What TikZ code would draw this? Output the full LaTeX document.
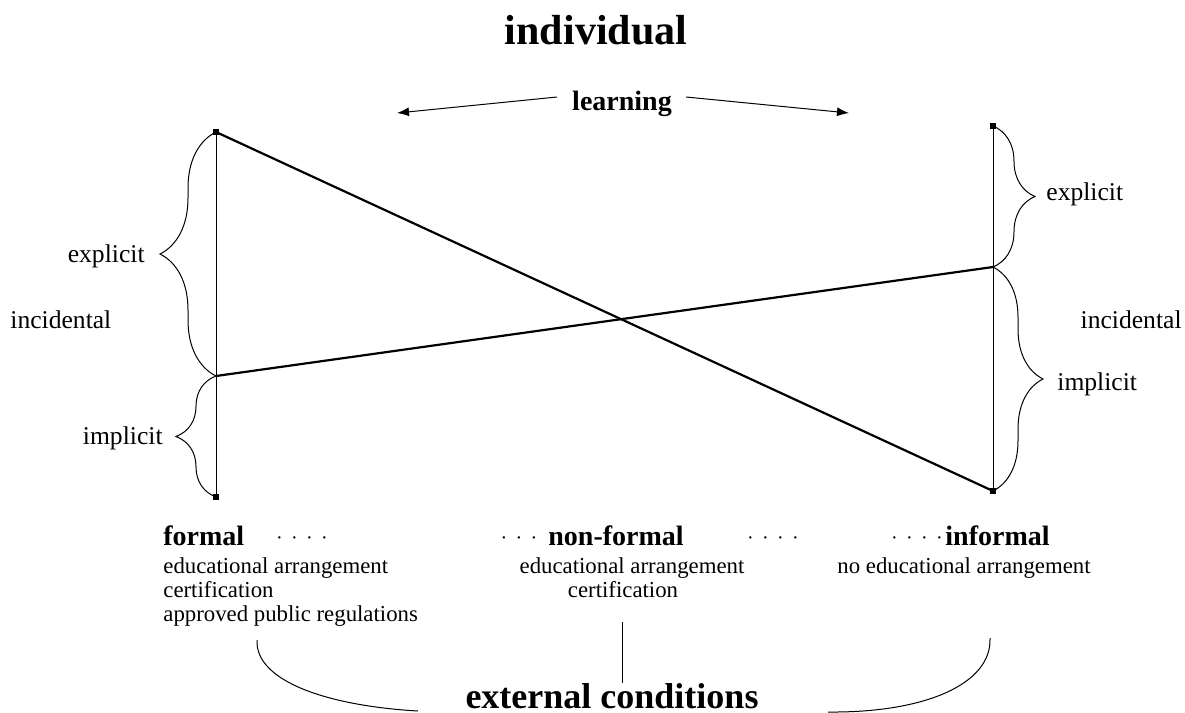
\documentclass[tikz,border=0pt]{standalone}
\usepackage{fontspec}
\setmainfont{Liberation Serif}
\usetikzlibrary{positioning}
\usetikzlibrary{arrows.meta}
\usetikzlibrary{decorations.pathreplacing}

\tikzset{
	endsq/.style={rectangle, fill=black, inner sep=0pt, minimum size=2.6pt},
	sidelbl/.style={font=\fontsize{12.8}{15}\selectfont, inner sep=0pt},
	sublbl/.style={font=\fontsize{11.4}{14}\selectfont, inner sep=0pt},
	headlbl/.style={font=\fontsize{14}{16}\selectfont\bfseries, inner sep=0pt},
	dotlbl/.style={font=\fontsize{10}{12}\selectfont, inner sep=0pt},
	brc/.style={decorate, decoration={brace, amplitude=#1}, line width=0.5pt},
	thinln/.style={line width=0.5pt},
	thickln/.style={line width=1.1pt},
}

\begin{document}
\begin{tikzpicture}[x=0.5pt, y=-0.5pt]
	\useasboundingbox (0,0) rectangle (1185,713);

	% top
	\node[font=\fontsize{21}{25}\selectfont\bfseries, inner sep=0pt, anchor=base] (indiv) at (596,44) {individual};
	\node[headlbl, anchor=base] (learn) at (622,110) {learning};
	\coordinate (arrLs) at (557,97);
	\coordinate (arrLe) at (397,113);
	\coordinate (arrRs) at (686,97);
	\coordinate (arrRe) at (849,113);
	\draw[thinln, -{Latex[length=6pt,width=4.5pt]}] (arrLs) -- (arrLe);
	\draw[thinln, -{Latex[length=6pt,width=4.5pt]}] (arrRs) -- (arrRe);

	% the two scales
	\coordinate (fTop) at (216,132);
	\coordinate (fMid) at (216,376);
	\coordinate (fBot) at (216,497);
	\coordinate (iTop) at (993,126);
	\coordinate (iMid) at (993,267);
	\coordinate (iBot) at (993,491);

	\draw[thinln] (fTop) -- (fBot);
	\draw[thinln] (iTop) -- (iBot);
	\draw[thickln] (fTop) -- (iBot);
	\draw[thickln] (fMid) -- (iMid);

	\node[endsq] (sqFt) at (fTop) {};
	\node[endsq] (sqFb) at (fBot) {};
	\node[endsq] (sqIt) at (iTop) {};
	\node[endsq] (sqIb) at (iBot) {};

	% braces
	\draw[brc=28pt] (fMid) -- (fTop);
	\draw[brc=20pt] (fBot) -- (fMid);
	\draw[brc=21pt] (iTop) -- (iMid);
	\draw[brc=25pt] (iMid) -- (iBot);

	\node[sidelbl, anchor=base east] (lExpl) at (145,262) {explicit};
	\node[sidelbl, anchor=base west] (lInc) at (10,328) {incidental};
	\node[sidelbl, anchor=base east] (lImpl) at (163,444) {implicit};
	\node[sidelbl, anchor=base west] (rExpl) at (1046,200) {explicit};
	\node[sidelbl, anchor=base east] (rInc) at (1182,328) {incidental};
	\node[sidelbl, anchor=base west] (rImpl) at (1057,390) {implicit};

	% settings
	\node[headlbl, anchor=base west] (formal) at (163,545) {formal};
	\node[headlbl, anchor=base west] (nonformal) at (548,545) {non-formal};
	\node[headlbl, anchor=base west] (informal) at (945,545) {informal};
	\node[dotlbl, anchor=base] (dotsA) at (302,544) {·\, ·\, ·\, ·};
	\node[dotlbl, anchor=base] (dotsB) at (519,544) {·\, ·\, ·};
	\node[dotlbl, anchor=base] (dotsC) at (773,544) {·\, ·\, ·\, ·};
	\node[dotlbl, anchor=base] (dotsD) at (917,544) {·\, ·\, ·\, ·};

	\node[sublbl, anchor=base west] (fEdu) at (163,573) {educational arrangement};
	\node[sublbl, anchor=base west] (fCert) at ([yshift=-12pt]fEdu.base west) {certification};
	\node[sublbl, anchor=base west] (fReg) at ([yshift=-12pt]fCert.base west) {approved public regulations};
	\node[sublbl, anchor=base] (nEdu) at (632,573) {educational arrangement};
	\node[sublbl, anchor=base] (nCert) at (623,597) {certification};
	\node[sublbl, anchor=base west] (iEdu) at (837,573) {no educational arrangement};

	% external conditions
	\node[font=\fontsize{18}{22}\selectfont\bfseries, inner sep=0pt, anchor=base] (extc) at (612,708) {external conditions};
	\coordinate (nLine) at (622,622);
	\coordinate (nLineEnd) at (622,683);
	\draw[thinln] (nLine) -- (nLineEnd);
	\coordinate (cLs) at (257,640);
	\coordinate (cLe) at (418,711);
	\coordinate (cRs) at (990,638);
	\coordinate (cRe) at (828,712);
	\draw[thinln] (cLs) .. controls (255,682) and (330,706) .. (cLe);
	\draw[thinln] (cRs) .. controls (992,684) and (925,713) .. (cRe);
\end{tikzpicture}
\end{document}
